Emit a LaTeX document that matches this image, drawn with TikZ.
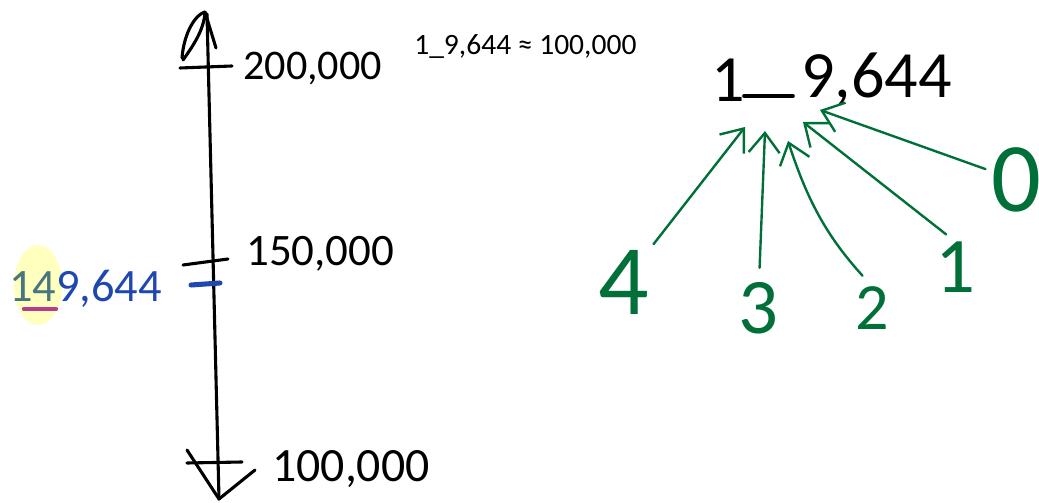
\documentclass[tikz,border=0pt]{standalone}
\usepackage{fontspec}
\setmainfont{Carlito}
\usetikzlibrary{arrows.meta}

\definecolor{penblue}{RGB}{30,72,176}
\definecolor{penteal}{RGB}{72,118,128}
\definecolor{pengreen}{RGB}{0,112,56}
\definecolor{hilite}{RGB}{255,255,190}
\definecolor{penpink}{RGB}{184,58,140}

\tikzset{
  ink/.style={line width=2.2pt, line cap=round, line join=round},
  hand/.style={inner sep=0pt, font=\fontsize{#1}{#1}\selectfont},
  guess/.style={pengreen, line width=1.7pt, line cap=round,
    -{Straight Barb[length=14pt, width=22pt, line width=1.7pt]}},
}

\begin{document}
\begin{tikzpicture}[x=0.025cm, y=-0.025cm]
  \useasboundingbox (0,0) rectangle (1039,503);

  % number line
  \coordinate (top) at (205,12);
  \coordinate (bot) at (219,499);
  \draw[ink] (207,14) -- (bot);
  \draw[ink] (182,58) .. controls (184,32) and (196,14) .. (top);
  \draw[ink] (183,60) .. controls (196,42) and (204,28) .. (top) -- (216,48);
  \draw[ink] (187,450) -- (bot) -- (255,470);

  % ticks and their values
  \draw[ink] (180,68) -- (232,66);
  \node[hand=30, anchor=base west] (hi) at (243,80) {200,000};
  \draw[ink] (183,265) -- (228,259);
  \node[hand=32, anchor=base west] (mid) at (246,266) {150,000};
  \draw[ink] (187,463) -- (242,462);
  \node[hand=34, anchor=base west] (lo) at (272,482) {100,000};

  % the number itself
  \fill[hilite] (38,285) ellipse (24 and 40);
  \draw[penblue, line width=3.6pt, line cap=round] (191,285) -- (220,283);
  \node[hand=33, anchor=base west, penblue] (num) at (9,302)
    {\textcolor{penteal}{14}9,644};
  \draw[penpink, line width=3pt, line cap=round] (24,309) -- (56,309);

  % typed question
  \node[hand=21, anchor=base west] (quest) at (414,55) {1\_9,644 ≈ 100,000};

  % missing digit
  \node[hand=47, anchor=base] (lead) at (728,102) {1};
  \coordinate (blankL) at (744,96);
  \coordinate (blankR) at (793,96);
  \draw[line width=2.6pt, line cap=round] (blankL) -- (blankR);
  \node[hand=47, anchor=base west] (rest) at (801,98) {9,644};

  % candidate digits
  \node[hand=71, pengreen] (d4) at (624,282) {4};
  \node[hand=56, pengreen] (d3) at (758,308) {3};
  \node[hand=47, pengreen] (d2) at (872,308) {2};
  \node[hand=56, pengreen] (d1) at (955,267) {1};
  \node[hand=70, pengreen] (d0) at (1016,180) {0};

  \coordinate (tip4) at (745,127);
  \coordinate (tip3) at (765,131);
  \coordinate (tip2) at (788,141);
  \coordinate (tip1) at (803,122);
  \coordinate (tip0) at (820,110);

  \draw[guess, shorten <=5pt] (d4) -- (tip4);
  \draw[guess, shorten <=10pt] (d3) -- (tip3);
  \draw[guess, shorten <=10pt] (d2.north) to[bend left=12] (tip2);
  \draw[guess, shorten <=8pt] (d1.north) -- (tip1);
  \draw[guess, shorten <=4pt] (d0) -- (tip0);
\end{tikzpicture}
\end{document}
